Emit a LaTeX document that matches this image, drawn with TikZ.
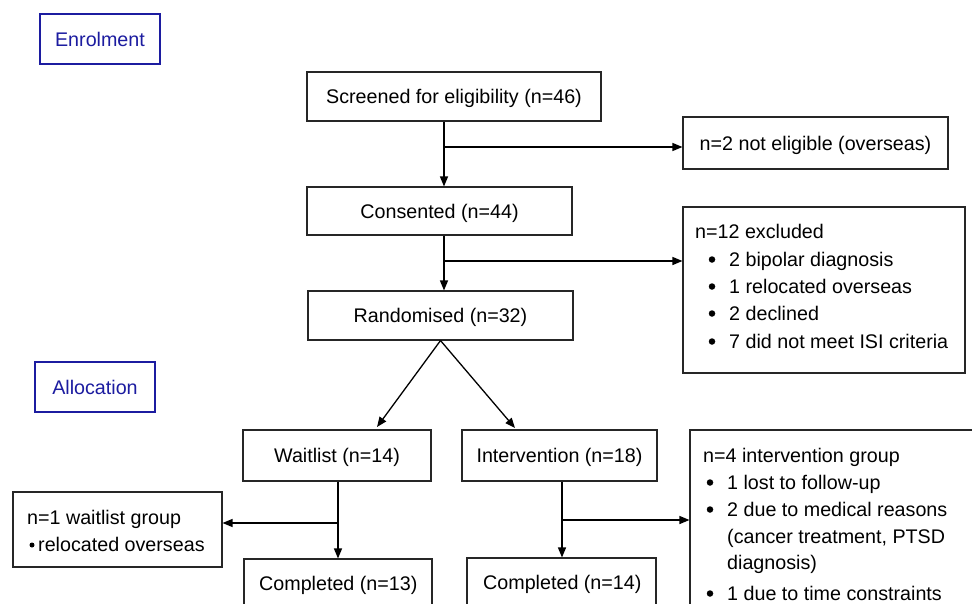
\documentclass[tikz,border=0pt]{standalone}
\usepackage{fontspec}
\setmainfont{Liberation Sans}
\usetikzlibrary{arrows.meta,calc}
\definecolor{navy}{RGB}{28,28,160}
\begin{document}
\begin{tikzpicture}[x=1pt,y=-1pt,
  box/.style={draw=black!85, line width=1.1pt, inner sep=0pt, text height=14.5pt, text depth=0pt},
  bluebox/.style={draw=navy, line width=1.1pt, text=navy, inner sep=0pt, text height=14.5pt, text depth=0pt},
  txt/.style={anchor=base west, inner sep=0pt},
  dot/.style={circle, fill=black, inner sep=0pt, minimum size=6.5pt},
  arr/.style={line width=1.3pt, -{Triangle[length=10pt,width=8pt]}},
  font=\fontsize{19.7}{24}\selectfont]
\useasboundingbox (0,0) rectangle (972,603);
\clip (0,0) rectangle (972,603);
\fill[white] (0,0) rectangle (972,603);
% boxes
\node[bluebox, minimum width=120pt, minimum height=50pt] (enr) at (100,39) {Enrolment};
\node[bluebox, minimum width=120pt, minimum height=50pt] (alloc) at (95,387) {Allocation};
\node[box, minimum width=294pt, minimum height=49pt] (scr) at (454,96.5) {Screened for eligibility (n=46)};
\node[box, minimum width=265pt, minimum height=52pt] (ne) at (815.5,143) {n=2 not eligible (overseas)};
\node[box, minimum width=265pt, minimum height=48pt] (cons) at (439.5,211) {Consented (n=44)};
\node[box, minimum width=282pt, minimum height=166pt] (excl) at (824,290) {};
\node[box, minimum width=265pt, minimum height=49pt] (rand) at (440.5,315.5) {Randomised (n=32)};
\node[box, minimum width=188pt, minimum height=51pt] (wl) at (337,455.5) {Waitlist (n=14)};
\node[box, minimum width=195pt, minimum height=51pt] (int) at (559.5,455.5) {Intervention (n=18)};
\node[box, minimum width=310pt, minimum height=220pt] (lost4) at (845,540) {};
\node[box, minimum width=209pt, minimum height=75pt] (lost1) at (117.5,529.5) {};
\node[box, minimum width=188pt, minimum height=62pt] (c13) at (338,590) {};
\node[box, minimum width=189pt, minimum height=62pt] (c14) at (561.5,589) {};
\node[txt] (c13t) at (259,590) {Completed (n=13)};
\node[txt] (c14t) at (483,589) {Completed (n=14)};
% excluded text
\node[txt] (e0) at (695,238) {n=12 excluded};
\node[dot] (eb1) at (712,259.5) {};
\node[txt] (e1) at (729,266) {2 bipolar diagnosis};
\node[dot] (eb2) at (712,286.5) {};
\node[txt] (e2) at (729,293) {1 relocated overseas};
\node[dot] (eb3) at (712,313.5) {};
\node[txt] (e3) at (729,320) {2 declined};
\node[dot] (eb4) at (712,341.5) {};
\node[txt] (e4) at (729,348) {7 did not meet ISI criteria};
% intervention lost text
\node[txt] (l0) at (703,462) {n=4 intervention group};
\node[dot] (lb1) at (710,482.5) {};
\node[txt] (l1) at (727,489) {1 lost to follow-up};
\node[dot] (lb2) at (710,509.5) {};
\node[txt] (l2) at (727,516) {2 due to medical reasons};
\node[txt] (l3) at (727,543) {(cancer treatment, PTSD};
\node[txt] (l4) at (727,569) {diagnosis)};
\node[dot] (lb3) at (710,593.5) {};
\node[txt] (l5) at (727,600) {1 due to time constraints};
% waitlist lost text
\node[txt] (w0) at (27,524) {n=1 waitlist group};
\node[dot, minimum size=5pt] (wb1) at (32,545) {};
\node[txt] (w1) at (38,551) {relocated overseas};
% branch points
\coordinate (b1) at (444,147);
\coordinate (b2) at (444,261);
\coordinate (b3) at (338,523);
\coordinate (b4) at (562,520);
\coordinate (d1) at (377,427);
\coordinate (d2) at (515,428);
% connectors
\draw[arr] (scr.south -| b1) -- (cons.north -| b1);
\draw[arr] (b1) -- (ne.west |- b1);
\draw[arr] (cons.south -| b2) -- (rand.north -| b2);
\draw[arr] (b2) -- (excl.west |- b2);
\draw[arr] (rand.south) -- (d1);
\draw[arr] (rand.south) -- (d2);
\draw[arr] (wl.south -| b3) -- (c13.north -| b3);
\draw[arr] (b3) -- (lost1.east |- b3);
\draw[arr] (int.south -| b4) -- (c14.north -| b4);
\draw[arr] (b4) -- (lost4.west |- b4);
\end{tikzpicture}
\end{document}
